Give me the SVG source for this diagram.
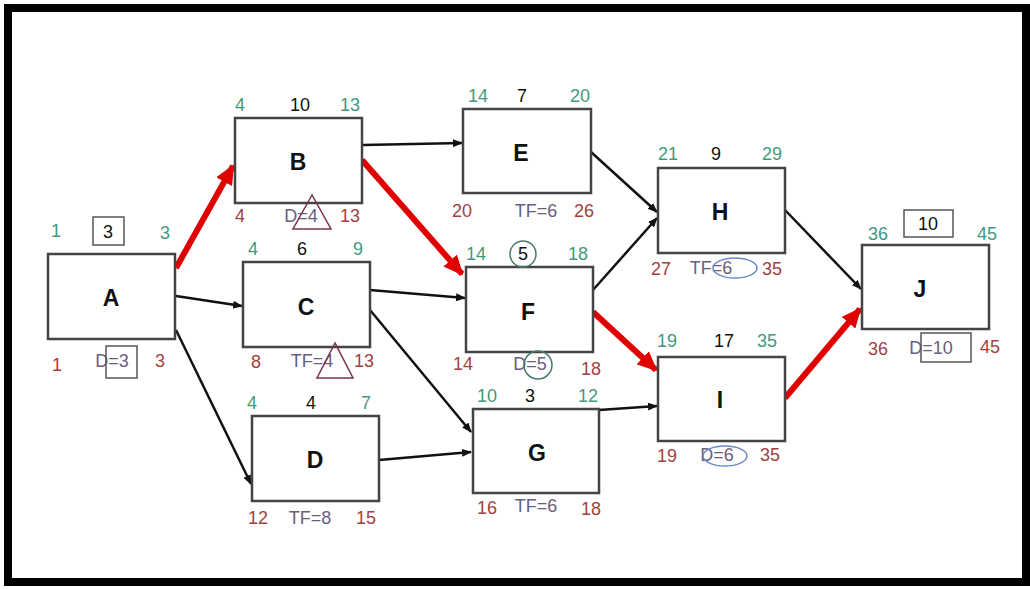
<svg xmlns="http://www.w3.org/2000/svg" width="1030" height="589" viewBox="0 0 1030 589">
<defs>
<style>
.box{fill:#fff;stroke:#444;stroke-width:2.5}
.nm{font-family:"Liberation Sans",Arial,sans-serif;font-size:23px;font-weight:bold;fill:#111;text-anchor:middle}
.t{font-family:"Liberation Sans",Arial,sans-serif;font-size:18px;text-anchor:middle}
.g{fill:#3f9a7c}
.k{fill:#111}
.r{fill:#a4403f}
.p{fill:#6a5e80}
.blk{stroke:#111;stroke-width:2.5;fill:none}
.red{stroke:#e00000;stroke-width:6;fill:none}
.ann{fill:none;stroke:#555;stroke-width:1.5}
.tri{fill:none;stroke:#7a3050;stroke-width:1.5}
.cir{fill:none;stroke:#4a7a6a;stroke-width:1.5}
.ell{fill:none;stroke:#6a88c8;stroke-width:1.5}
</style>
<marker id="ab" markerWidth="10" markerHeight="8" refX="9" refY="4" orient="auto" markerUnits="userSpaceOnUse"><path d="M0,0 L10,4 L0,8 z" fill="#111"/></marker>
<marker id="ar" markerWidth="20" markerHeight="18" refX="18" refY="9" orient="auto" markerUnits="userSpaceOnUse"><path d="M0,0 L20,9 L0,18 z" fill="#e00000"/></marker>
</defs>
<rect x="0" y="0" width="1030" height="589" fill="#fff"/>
<rect x="8" y="8" width="1018" height="574" fill="none" stroke="#000" stroke-width="8"/>
<g id="connectors">
<line class="red" x1="176" y1="268" x2="233" y2="166" marker-end="url(#ar)"/>
<line class="red" x1="362" y1="160" x2="462" y2="274" marker-end="url(#ar)"/>
<line class="red" x1="593" y1="312" x2="656" y2="370" marker-end="url(#ar)"/>
<line class="red" x1="785" y1="398" x2="860" y2="309" marker-end="url(#ar)"/>
<line class="blk" x1="176" y1="296" x2="242" y2="306" marker-end="url(#ab)"/>
<line class="blk" x1="176" y1="330" x2="251" y2="484" marker-end="url(#ab)"/>
<line class="blk" x1="363" y1="145" x2="462" y2="143" marker-end="url(#ab)"/>
<line class="blk" x1="370" y1="290" x2="465" y2="298" marker-end="url(#ab)"/>
<line class="blk" x1="370" y1="310" x2="471" y2="432" marker-end="url(#ab)"/>
<line class="blk" x1="379" y1="460" x2="471" y2="452" marker-end="url(#ab)"/>
<line class="blk" x1="591" y1="152" x2="657" y2="212" marker-end="url(#ab)"/>
<line class="blk" x1="593" y1="290" x2="657" y2="218" marker-end="url(#ab)"/>
<line class="blk" x1="599" y1="410" x2="657" y2="406" marker-end="url(#ab)"/>
<line class="blk" x1="785" y1="210" x2="861" y2="289" marker-end="url(#ab)"/>
</g>
<g id="A">
<rect class="box" x="48" y="254" width="127" height="85"/>
<text class="nm" x="111" y="306">A</text>
<text class="t g" x="56" y="237">1</text>
<rect class="ann" x="93" y="217" width="31" height="28"/>
<text class="t k" x="108" y="238">3</text>
<text class="t g" x="165" y="239">3</text>
<text class="t r" x="57" y="371">1</text>
<text class="t p" x="112" y="367">D=3</text>
<rect class="ann" x="106" y="346" width="31" height="32"/>
<text class="t r" x="160" y="367">3</text>
</g>
<g id="B">
<rect class="box" x="235" y="118" width="127" height="85"/>
<text class="nm" x="298" y="170">B</text>
<text class="t g" x="240" y="111">4</text>
<text class="t k" x="300" y="111">10</text>
<text class="t g" x="350" y="111">13</text>
<text class="t r" x="240" y="222">4</text>
<text class="t p" x="301" y="222">D=4</text>
<polygon class="tri" points="312,195 293,229 331,229"/>
<text class="t r" x="350" y="222">13</text>
</g>
<g id="C">
<rect class="box" x="243" y="262" width="127" height="85"/>
<text class="nm" x="306" y="315">C</text>
<text class="t g" x="253" y="255">4</text>
<text class="t k" x="302" y="255">6</text>
<text class="t g" x="358" y="255">9</text>
<text class="t r" x="256" y="368">8</text>
<text class="t p" x="312" y="367">TF=4</text>
<polygon class="tri" points="335,343 317,378 353,378"/>
<text class="t r" x="364" y="367">13</text>
</g>
<g id="D">
<rect class="box" x="252" y="416" width="127" height="85"/>
<text class="nm" x="315" y="468">D</text>
<text class="t g" x="252" y="409">4</text>
<text class="t k" x="311" y="409">4</text>
<text class="t g" x="366" y="409">7</text>
<text class="t r" x="258" y="524">12</text>
<text class="t p" x="310" y="524">TF=8</text>
<text class="t r" x="366" y="524">15</text>
</g>
<g id="E">
<rect class="box" x="463" y="109" width="128" height="84"/>
<text class="nm" x="521" y="161">E</text>
<text class="t g" x="478" y="102">14</text>
<text class="t k" x="522" y="102">7</text>
<text class="t g" x="580" y="102">20</text>
<text class="t r" x="462" y="217">20</text>
<text class="t p" x="536" y="217">TF=6</text>
<text class="t r" x="584" y="217">26</text>
</g>
<g id="F">
<rect class="box" x="466" y="267" width="127" height="85"/>
<text class="nm" x="528" y="320">F</text>
<text class="t g" x="476" y="260">14</text>
<circle class="cir" cx="523" cy="254" r="13"/>
<text class="t k" x="523" y="260">5</text>
<text class="t g" x="578" y="260">18</text>
<text class="t r" x="463" y="370">14</text>
<text class="t p" x="530" y="370">D=5</text>
<circle class="cir" cx="538" cy="365" r="14"/>
<text class="t r" x="591" y="375">18</text>
</g>
<g id="G">
<rect class="box" x="473" y="409" width="126" height="84"/>
<text class="nm" x="537" y="461">G</text>
<text class="t g" x="487" y="402">10</text>
<text class="t k" x="530" y="402">3</text>
<text class="t g" x="588" y="402">12</text>
<text class="t r" x="487" y="514">16</text>
<text class="t p" x="536" y="512">TF=6</text>
<text class="t r" x="591" y="515">18</text>
</g>
<g id="H">
<rect class="box" x="658" y="168" width="127" height="85"/>
<text class="nm" x="720" y="220">H</text>
<text class="t g" x="668" y="160">21</text>
<text class="t k" x="716" y="160">9</text>
<text class="t g" x="772" y="160">29</text>
<text class="t r" x="661" y="275">27</text>
<text class="t p" x="711" y="274">TF=6</text>
<ellipse class="ell" cx="735" cy="268" rx="22" ry="10"/>
<text class="t r" x="772" y="275">35</text>
</g>
<g id="I">
<rect class="box" x="658" y="357" width="127" height="84"/>
<text class="nm" x="720" y="408">I</text>
<text class="t g" x="667" y="347">19</text>
<text class="t k" x="724" y="347">17</text>
<text class="t g" x="767" y="347">35</text>
<text class="t r" x="667" y="462">19</text>
<text class="t p" x="717" y="461">D=6</text>
<ellipse class="ell" cx="725" cy="456" rx="22" ry="10"/>
<text class="t r" x="770" y="461">35</text>
</g>
<g id="J">
<rect class="box" x="862" y="245" width="127" height="84"/>
<text class="nm" x="920" y="297">J</text>
<text class="t g" x="878" y="240">36</text>
<rect class="ann" x="904" y="210" width="49" height="27"/>
<text class="t k" x="928" y="230">10</text>
<text class="t g" x="987" y="240">45</text>
<text class="t r" x="878" y="355">36</text>
<text class="t p" x="931" y="354">D=10</text>
<rect class="ann" x="921" y="333" width="50" height="29"/>
<text class="t r" x="990" y="353">45</text>
</g>
</svg>
